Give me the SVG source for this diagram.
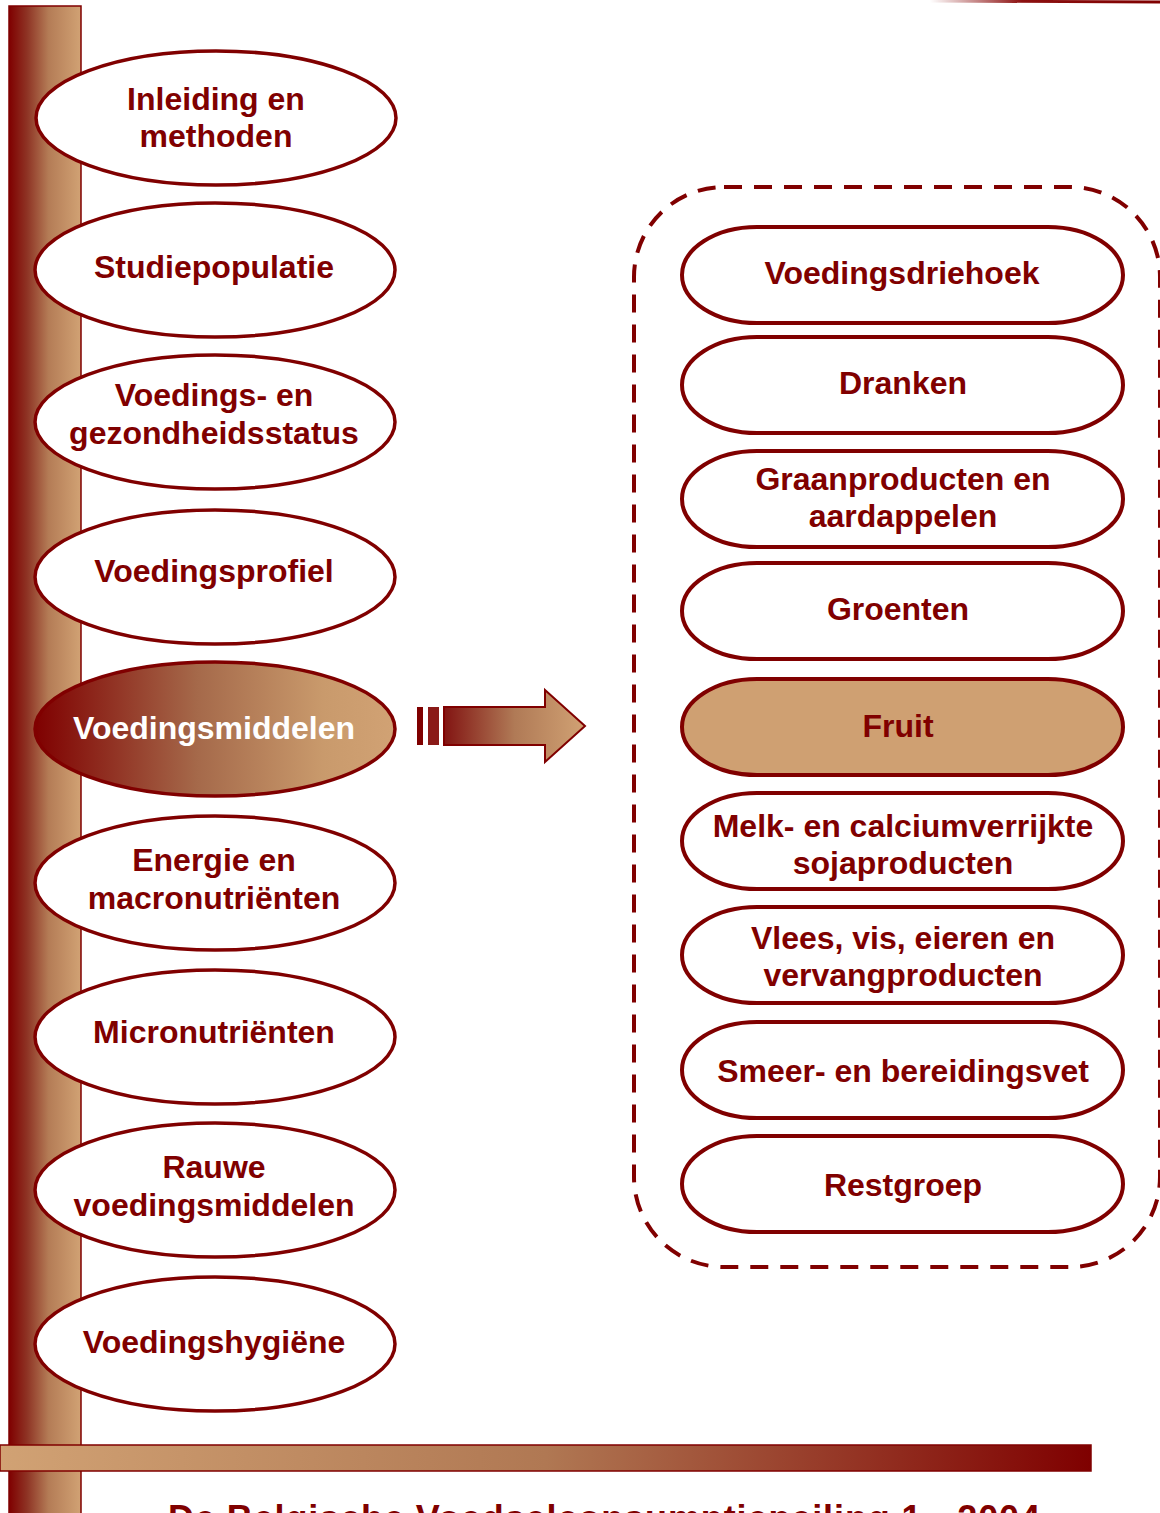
<svg xmlns="http://www.w3.org/2000/svg" width="1160" height="1513" viewBox="0 0 1160 1513">
<defs>
<linearGradient id="gBar" x1="0" y1="0" x2="1" y2="0">
<stop offset="0" stop-color="#7F0000"/>
<stop offset="0.25" stop-color="#8E3324"/>
<stop offset="0.55" stop-color="#B47C56"/>
<stop offset="1" stop-color="#D1A274"/>
</linearGradient>
<linearGradient id="gBottom" x1="0" y1="0" x2="1" y2="0">
<stop offset="0" stop-color="#D1A274"/>
<stop offset="0.5" stop-color="#B07853"/>
<stop offset="1" stop-color="#7F0000"/>
</linearGradient>
<linearGradient id="gSel" x1="0" y1="0" x2="1" y2="0">
<stop offset="0" stop-color="#7F0000"/>
<stop offset="0.45" stop-color="#A5694A"/>
<stop offset="0.8" stop-color="#C99A6C"/>
<stop offset="1" stop-color="#D1A274"/>
</linearGradient>
<linearGradient id="gArrow" x1="444" y1="0" x2="585" y2="0" gradientUnits="userSpaceOnUse">
<stop offset="0" stop-color="#821412"/>
<stop offset="0.5" stop-color="#B07A56"/>
<stop offset="1" stop-color="#D1A274"/>
</linearGradient>
<linearGradient id="gTop" x1="0" y1="0" x2="1" y2="0">
<stop offset="0" stop-color="#FFFFFF"/>
<stop offset="0.4" stop-color="#8C1010"/>
<stop offset="1" stop-color="#7F0000"/>
</linearGradient>
</defs>
<style>
.t{font-family:"Liberation Sans",Arial,sans-serif;font-weight:bold;font-size:32px;fill:#800000;text-anchor:middle}
.w{fill:#FFFFFF}
.ell{fill:#FFFFFF;stroke:#800000;stroke-width:3.5}
.pill{fill:#FFFFFF;stroke:#800000;stroke-width:4}
</style>

<line x1="930" y1="1" x2="1160" y2="2" stroke="url(#gTop)" stroke-width="3"/>
<rect id="sidebar" x="9" y="6" width="72" height="1515" fill="url(#gBar)" stroke="#800000" stroke-width="1.5"/>
<rect id="bottombar" x="0" y="1445" width="1091" height="26" fill="url(#gBottom)" stroke="#800000" stroke-width="1.5"/>
<text x="168" y="1531" textLength="872" style="font-family:'Liberation Sans',Arial,sans-serif;font-weight:bold;font-size:36px;fill:#800000">De Belgische Voedselconsumptiepeiling 1 - 2004</text>

<g id="n1"><ellipse class="ell" cx="216" cy="118" rx="180" ry="67"/><text class="t" x="216" y="110">Inleiding en</text><text class="t" x="216" y="147">methoden</text></g>
<g id="n2"><ellipse class="ell" cx="215" cy="270" rx="180" ry="67"/><text class="t" x="214" y="278">Studiepopulatie</text></g>
<g id="n3"><ellipse class="ell" cx="215" cy="422" rx="180" ry="67"/><text class="t" x="214" y="406">Voedings- en</text><text class="t" x="214" y="444">gezondheidsstatus</text></g>
<g id="n4"><ellipse class="ell" cx="215" cy="577" rx="180" ry="67"/><text class="t" x="214" y="582">Voedingsprofiel</text></g>
<g id="n5"><ellipse cx="215" cy="729" rx="180" ry="67" fill="url(#gSel)" stroke="#800000" stroke-width="3.5"/><text class="t w" x="214" y="739">Voedingsmiddelen</text></g>
<g id="n6"><ellipse class="ell" cx="215" cy="883" rx="180" ry="67"/><text class="t" x="214" y="871">Energie en</text><text class="t" x="214" y="909">macronutriënten</text></g>
<g id="n7"><ellipse class="ell" cx="215" cy="1037" rx="180" ry="67"/><text class="t" x="214" y="1043">Micronutriënten</text></g>
<g id="n8"><ellipse class="ell" cx="215" cy="1190" rx="180" ry="67"/><text class="t" x="214" y="1178">Rauwe</text><text class="t" x="214" y="1216">voedingsmiddelen</text></g>
<g id="n9"><ellipse class="ell" cx="215" cy="1344" rx="180" ry="67"/><text class="t" x="214" y="1353">Voedingshygiëne</text></g>

<g id="connectors">
<rect x="417" y="707" width="6" height="38" fill="#7F0000"/>
<rect x="428" y="707" width="11" height="38" fill="#8A1A18"/>
<path d="M444,707 H545 V690 L585,726 L545,762 V745 H444 Z" fill="url(#gArrow)" stroke="#800000" stroke-width="2"/>
</g>

<g id="group">
<rect x="634" y="187" width="526" height="1080" rx="90" ry="90" fill="none" stroke="#800000" stroke-width="4" stroke-dasharray="18,12"/>
</g>

<g id="r1"><rect class="pill" x="682" y="227" width="441" height="96" rx="75" ry="48"/><text class="t" x="902" y="284">Voedingsdriehoek</text></g>
<g id="r2"><rect class="pill" x="682" y="337" width="441" height="96" rx="75" ry="48"/><text class="t" x="903" y="394">Dranken</text></g>
<g id="r3"><rect class="pill" x="682" y="451" width="441" height="96" rx="75" ry="48"/><text class="t" x="903" y="490">Graanproducten en</text><text class="t" x="903" y="527">aardappelen</text></g>
<g id="r4"><rect class="pill" x="682" y="563" width="441" height="96" rx="75" ry="48"/><text class="t" x="898" y="620">Groenten</text></g>
<g id="r5"><rect x="682" y="679" width="441" height="96" rx="75" ry="48" fill="#CFA072" stroke="#800000" stroke-width="4"/><text class="t" x="898" y="737">Fruit</text></g>
<g id="r6"><rect class="pill" x="682" y="793" width="441" height="96" rx="75" ry="48"/><text class="t" x="903" y="837">Melk- en calciumverrijkte</text><text class="t" x="903" y="874">sojaproducten</text></g>
<g id="r7"><rect class="pill" x="682" y="907" width="441" height="96" rx="75" ry="48"/><text class="t" x="903" y="949">Vlees, vis, eieren en</text><text class="t" x="903" y="986">vervangproducten</text></g>
<g id="r8"><rect class="pill" x="682" y="1022" width="441" height="96" rx="75" ry="48"/><text class="t" x="903" y="1082">Smeer- en bereidingsvet</text></g>
<g id="r9"><rect class="pill" x="682" y="1136" width="441" height="96" rx="75" ry="48"/><text class="t" x="903" y="1196">Restgroep</text></g>
</svg>
